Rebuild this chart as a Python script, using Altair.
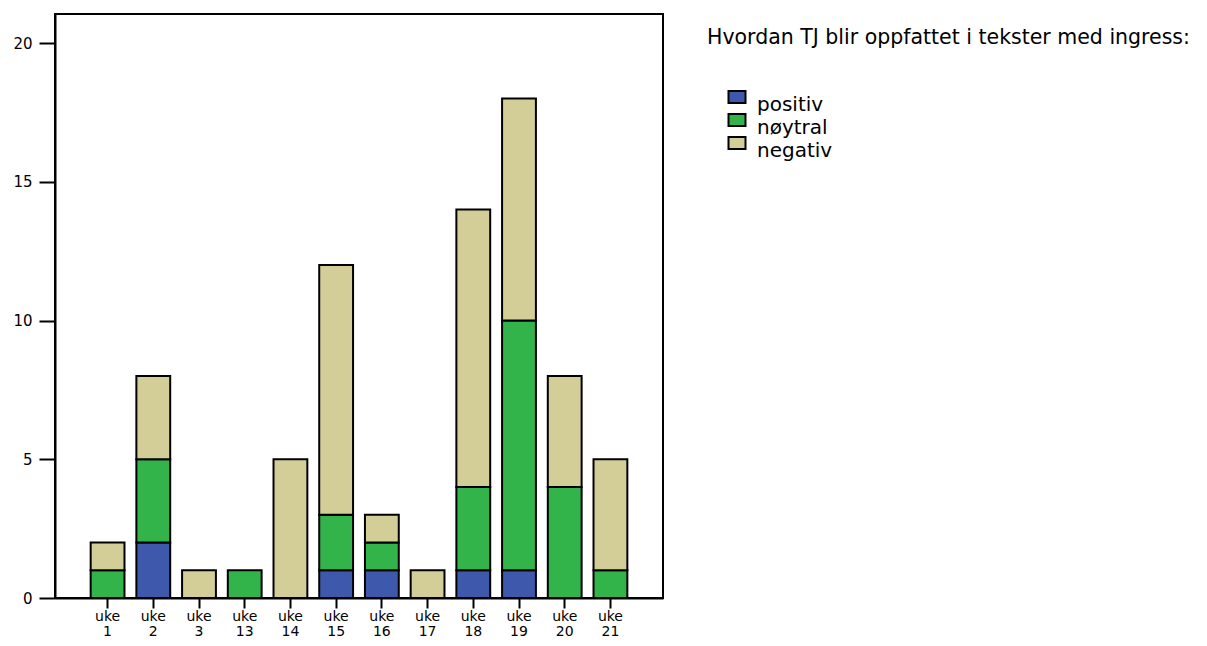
import altair as alt
import pandas as pd

weeks = ["1", "2", "3", "13", "14", "15", "16", "17", "18", "19", "20", "21"]
positiv = [0, 2, 0, 0, 0, 1, 1, 0, 1, 1, 0, 0]
noytral = [1, 3, 0, 1, 0, 2, 1, 0, 3, 9, 4, 1]
negativ = [1, 3, 1, 0, 5, 9, 1, 1, 10, 8, 4, 4]
categories = ["positiv", "nøytral", "negativ"]
colors = ["#3e58ac", "#33b44a", "#d3ce97"]
title_text = "Hvordan TJ blir oppfattet i tekster med ingress:"

rows = []
for i, w in enumerate(weeks):
    for k, (cat, vals) in enumerate(zip(categories, [positiv, noytral, negativ])):
        if vals[i] > 0:
            rows.append({"uke": w, "kategori": cat, "antall": vals[i], "ord": k})
df = pd.DataFrame(rows)

FONT = "DejaVu Sans"

bars = alt.Chart(df).mark_bar(stroke="black", strokeWidth=2, opacity=1).encode(
    x=alt.X("uke:N", sort=weeks, title=None,
            scale=alt.Scale(paddingInner=0.26, paddingOuter=0.78),
            axis=alt.Axis(labelAngle=0, labelExpr="['uke', datum.label]",
                          labelFontSize=14, labelLineHeight=15, labelPadding=1,
                          tickSize=10, tickWidth=2, tickColor="black",
                          domainColor="black", domainWidth=2,
                          labelColor="black", labelFont=FONT)),
    y=alt.Y("antall:Q", stack="zero", title=None,
            scale=alt.Scale(domain=[0, 21.05], nice=False),
            axis=alt.Axis(values=[0, 5, 10, 15, 20], grid=False,
                          tickSize=16, tickWidth=2, tickColor="black",
                          domainColor="black", domainWidth=2,
                          labelFontSize=15, labelPadding=7,
                          labelColor="black", labelFont=FONT)),
    color=alt.Color("kategori:N",
                    scale=alt.Scale(domain=categories, range=colors),
                    legend=alt.Legend(title=None, orient="none",
                                      legendX=672, legendY=81,
                                      symbolType="M-1,-1.64H1V-0.24H-1Z",
                                      symbolSize=289, symbolStrokeColor="black",
                                      symbolStrokeWidth=2, symbolOpacity=1,
                                      labelFontSize=20, labelFont=FONT,
                                      labelColor="black", labelBaseline="middle",
                                      labelOffset=10, rowPadding=-5)),
    order=alt.Order("ord:Q"),
)

title_df = pd.DataFrame({"t": [title_text]})
title = alt.Chart(title_df).mark_text(
    align="left", baseline="alphabetic", fontSize=20.5, font=FONT, color="black"
).encode(text="t:N", x=alt.value(652), y=alt.value(30))

chart = alt.layer(bars, title).properties(
    width=608, height=584,
    autosize=alt.AutoSizeParams(type="none"),
    padding={"left": 47, "top": 6, "right": 536, "bottom": 42},
).configure(font=FONT).configure_view(stroke="black", strokeWidth=2)

chart.save("out.html", embed_options={"renderer": "svg", "actions": False})
